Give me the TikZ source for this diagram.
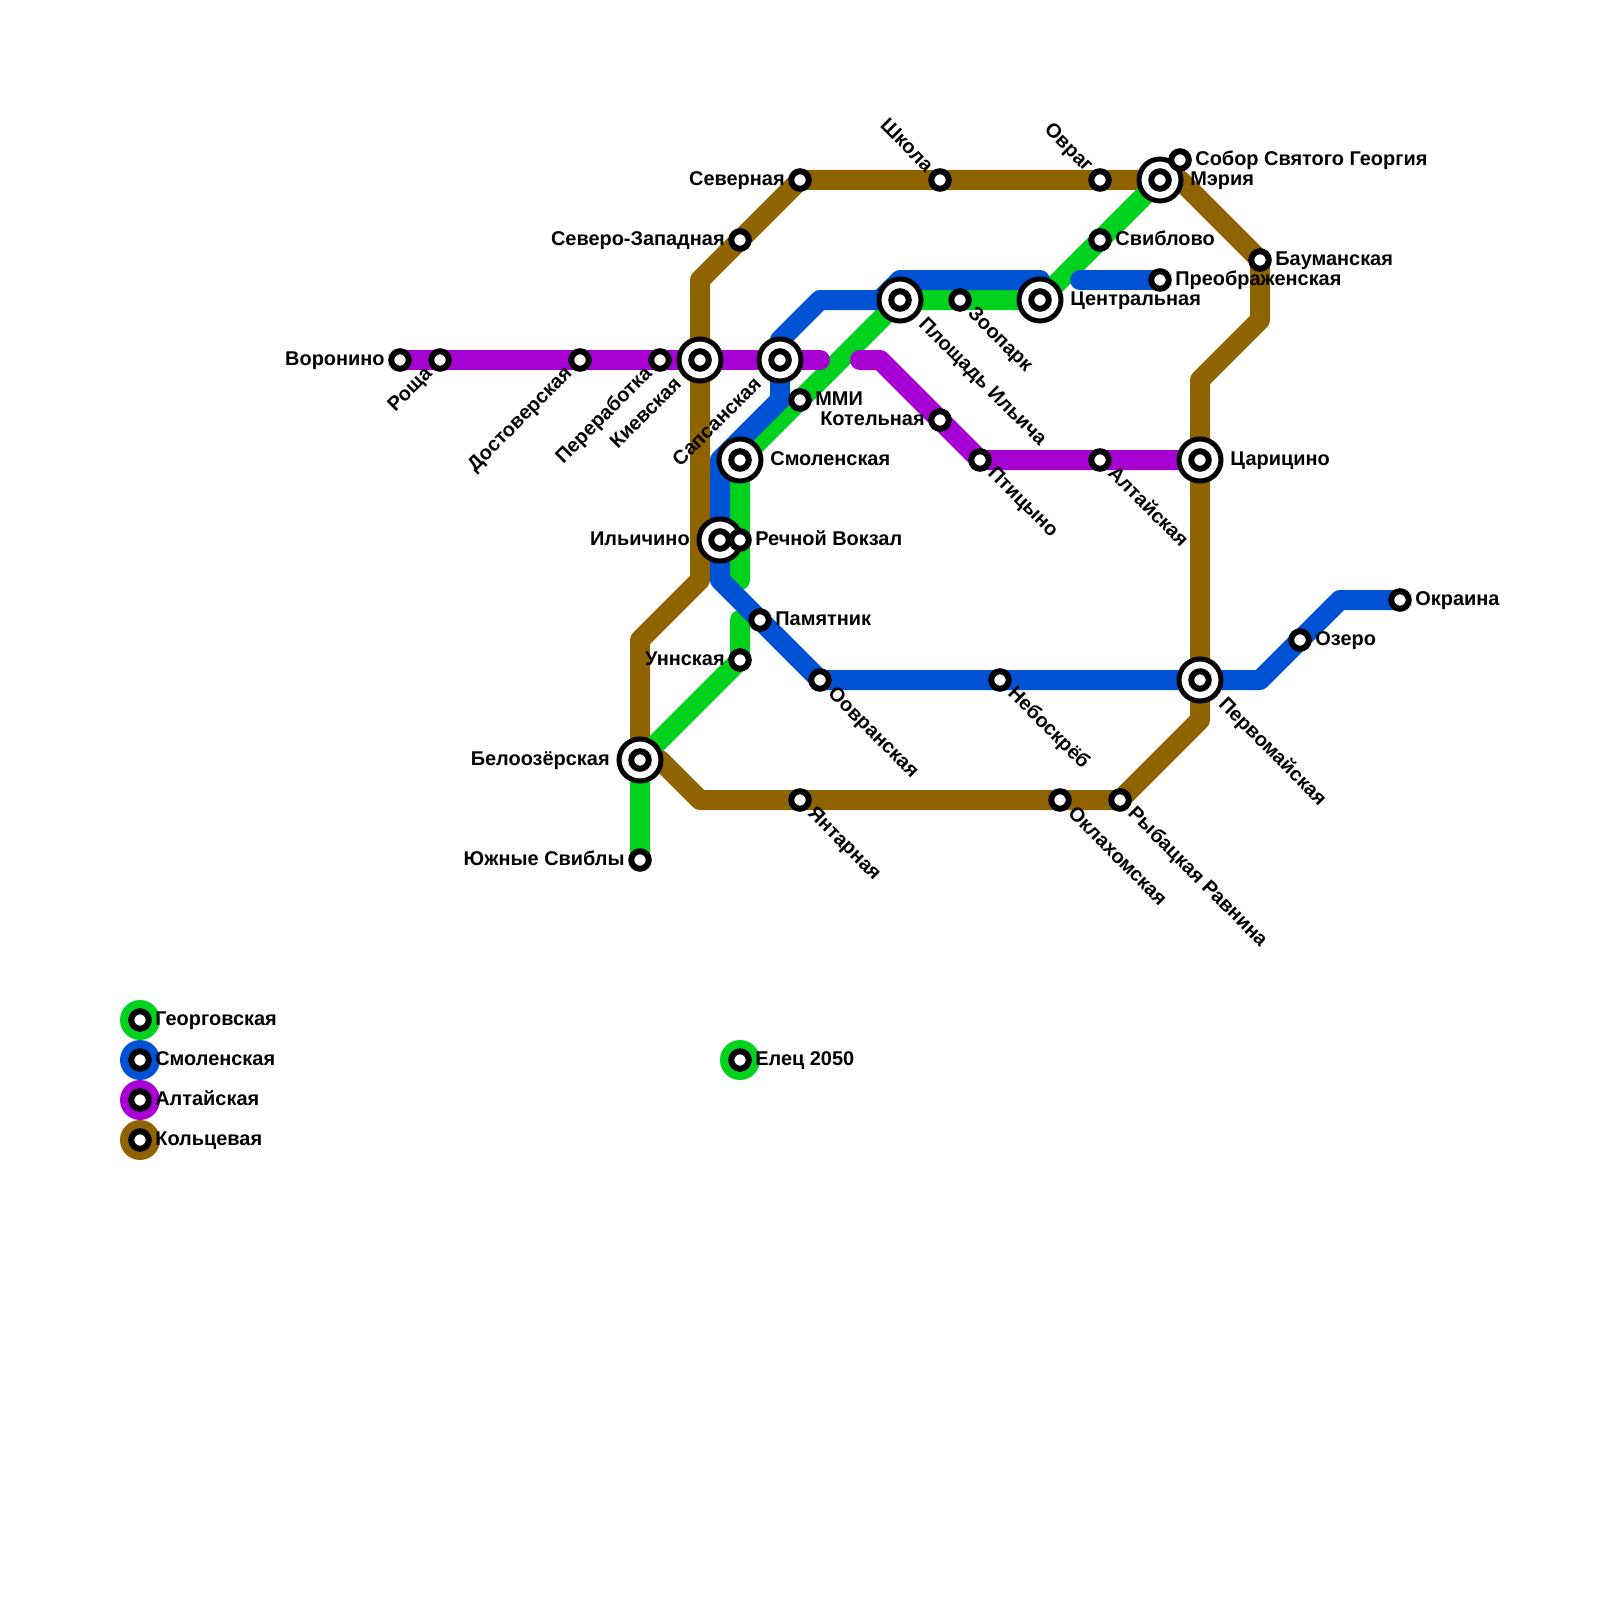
\documentclass[tikz,border=0pt]{standalone}
\usepackage{fontspec}
\setmainfont{Liberation Sans}
\definecolor{lineGreen}{HTML}{00D21E}
\definecolor{lineBlue}{HTML}{0052D4}
\definecolor{linePurple}{HTML}{A600D2}
\definecolor{lineBrown}{HTML}{8F6300}
\tikzset{
  route/.style={line width=0.4cm, line cap=round, line join=round},
  stnSmall/.style={circle, draw=black, fill=white, line width=0.12cm, minimum size=0.35cm, inner sep=0pt, outer sep=0pt},
  stnBig/.style={circle, draw=black, fill=white, line width=0.1cm, minimum size=0.84cm, inner sep=0pt, outer sep=0pt},
  legendDot/.style={circle, minimum size=0.8cm, inner sep=0pt, outer sep=0pt},
  lbl/.style={font=\fontsize{11.34}{13}\selectfont\bfseries, text=black, text height=0.21cm, text depth=0pt, inner ysep=0pt},
  lblR/.style={lbl, anchor=west, inner xsep=#1},
  lblL/.style={lbl, anchor=east, inner xsep=#1},
  lblDR/.style={lbl, anchor=west, rotate=-45, inner xsep=#1},
  lblUL/.style={lbl, anchor=east, rotate=-45, inner xsep=#1},
  lblDL/.style={lbl, anchor=east, rotate=45, inner xsep=#1},
}

\begin{document}
\begin{tikzpicture}[x=0.4cm, y=-0.4cm]

% --- CANVAS ---
\path[use as bounding box, fill=white] (0,0) rectangle (80,80);

% --- STATION POSITIONS ---
\foreach \st/\gx/\gy in {
  voronino/20/18, roshcha/22/18, dostoverskaya/29/18, pererabotka/33/18,
  kievskaya/35/18, sapsanskaya/39/18, mmi/40/20, smolenskaya/37/23,
  ilichino/36/27, rechnoy/37/27, pamyatnik/38/31, unnskaya/37/33,
  oovranskaya/41/34, neboskreb/50/34, pervomayskaya/60/34, ozero/65/32,
  okraina/70/30, beloozerskaya/32/38, yuzhnye/32/43, yantarnaya/40/40,
  oklahomskaya/53/40, rybatskaya/56/40, tsaritsino/60/23, altayskaya/55/23,
  ptitsyno/49/23, kotelnaya/47/21, ilyicha/45/15, zoopark/48/15,
  tsentralnaya/52/15, sviblovo/55/12, preobrazhenskaya/58/14, meriya/58/9,
  sobor/59/8, ovrag/55/9, shkola/47/9, severnaya/40/9, szapadnaya/37/12,
  baumanskaya/63/13, legGreen/7/51, legBlue/7/53, legPurple/7/55,
  legBrown/7/57, elets/37/53%
} {
  \coordinate (\st) at (\gx,\gy);
}

% --- BENDS ---
\coordinate (brA) at (59,9);
\coordinate (brB) at (63,16);
\coordinate (brC) at (60,19);
\coordinate (brD) at (60,36);
\coordinate (brE) at (35,40);
\coordinate (brF) at (33,38);
\coordinate (brG) at (32,32);
\coordinate (brH) at (35,29);
\coordinate (brI) at (35,14);
\coordinate (grA) at (37,29);
\coordinate (grB) at (37,31);
\coordinate (blA) at (67,30);
\coordinate (blB) at (63,34);
\coordinate (blC) at (36,29);
\coordinate (blD) at (36,23);
\coordinate (blE) at (39,20);
\coordinate (blF) at (39,17);
\coordinate (blG) at (41,15);
\coordinate (blH) at (44,15);
\coordinate (blI) at (45,14);
\coordinate (blJ) at (52,14);
\coordinate (blK) at (54,14);
\coordinate (puA) at (41,18);
\coordinate (puB) at (43,18);
\coordinate (puC) at (44,18);

% --- ROUTES ---
\draw[route, lineBrown] (severnaya) -- (meriya) -- (brA) -- (baumanskaya) -- (brB) -- (brC)
  -- (brD) -- (rybatskaya) -- (brE) -- (brF) -- (beloozerskaya) -- (brG) -- (brH) -- (brI) -- cycle;
\draw[route, lineGreen] (yuzhnye) -- (beloozerskaya) -- (unnskaya) -- (grB);
\draw[route, lineGreen] (grA) -- (smolenskaya) -- (ilyicha) -- (tsentralnaya) -- (meriya);
\draw[route, lineBlue] (okraina) -- (blA) -- (blB) -- (oovranskaya) -- (blC) -- (blD) -- (blE)
  -- (blF) -- (blG) -- (blH) -- (blI) -- (blJ);
\draw[route, lineBlue] (blK) -- (preobrazhenskaya);
\draw[route, linePurple] (voronino) -- (puA);
\draw[route, linePurple] (puB) -- (puC) -- (ptitsyno) -- (tsaritsino);

% --- LEGEND DISCS ---
\node[legendDot, fill=lineGreen] (dotGreen) at (legGreen) {};
\node[legendDot, fill=lineBlue] (dotBlue) at (legBlue) {};
\node[legendDot, fill=linePurple] (dotPurple) at (legPurple) {};
\node[legendDot, fill=lineBrown] (dotBrown) at (legBrown) {};
\node[legendDot, fill=lineGreen] (dotElets) at (elets) {};

% --- INTERCHANGE RINGS ---
\foreach \st in {kievskaya,sapsanskaya,smolenskaya,ilichino,ilyicha,tsentralnaya,
  meriya,tsaritsino,pervomayskaya,beloozerskaya} {
  \node[stnBig] (ring-\st) at (\st) {};
}

% --- STATION MARKERS ---
\foreach \st in {voronino,roshcha,dostoverskaya,pererabotka,kievskaya,sapsanskaya,mmi,
  smolenskaya,ilichino,rechnoy,pamyatnik,unnskaya,oovranskaya,neboskreb,pervomayskaya,
  ozero,okraina,beloozerskaya,yuzhnye,yantarnaya,oklahomskaya,rybatskaya,tsaritsino,
  altayskaya,ptitsyno,kotelnaya,ilyicha,zoopark,tsentralnaya,sviblovo,preobrazhenskaya,
  meriya,sobor,ovrag,shkola,severnaya,szapadnaya,baumanskaya,legGreen,legBlue,legPurple,
  legBrown,elets} {
  \node[stnSmall] (stn-\st) at (\st) {};
}

% --- LABELS RIGHT ---
\foreach \st/\txt in {mmi/ММИ, rechnoy/Речной Вокзал, pamyatnik/Памятник, ozero/Озеро,
  okraina/Окраина, sviblovo/Свиблово, preobrazhenskaya/Преображенская, sobor/Собор Святого Георгия,
  baumanskaya/Бауманская, legGreen/Георговская, legBlue/Смоленская, legPurple/Алтайская,
  legBrown/Кольцевая, elets/Елец 2050} {
  \node[lblR=0.3cm] (lbl-\st) at (\st) {\txt};
}
\foreach \st/\txt in {smolenskaya/Смоленская, tsaritsino/Царицино, tsentralnaya/Центральная, meriya/Мэрия} {
  \node[lblR=0.6cm] (lbl-\st) at (\st) {\txt};
}

% --- LABELS LEFT ---
\foreach \st/\txt in {voronino/Воронино, severnaya/Северная, szapadnaya/Северо-Западная,
  unnskaya/Уннская, kotelnaya/Котельная, yuzhnye/Южные Свиблы} {
  \node[lblL=0.3cm] (lbl-\st) at (\st) {\txt};
}
\foreach \st/\txt in {ilichino/Ильичино, beloozerskaya/Белоозёрская} {
  \node[lblL=0.6cm] (lbl-\st) at (\st) {\txt};
}

% --- LABELS DIAGONAL ---
\foreach \st/\txt in {zoopark/Зоопарк, ptitsyno/Птицыно, altayskaya/Алтайская, oovranskaya/Оовранская,
  neboskreb/Небоскрёб, yantarnaya/Янтарная, oklahomskaya/Оклахомская, rybatskaya/Рыбацкая Равнина} {
  \node[lblDR=0.3cm] (lbl-\st) at (\st) {\txt};
}
\foreach \st/\txt in {ilyicha/Площадь Ильича, pervomayskaya/Первомайская} {
  \node[lblDR=0.6cm] (lbl-\st) at (\st) {\txt};
}
\foreach \st/\txt in {shkola/Школа, ovrag/Овраг} {
  \node[lblUL=0.3cm] (lbl-\st) at (\st) {\txt};
}
\foreach \st/\txt in {roshcha/Роща, dostoverskaya/Достоверская, pererabotka/Переработка} {
  \node[lblDL=0.3cm] (lbl-\st) at (\st) {\txt};
}
\foreach \st/\txt in {kievskaya/Киевская, sapsanskaya/Сапсанская} {
  \node[lblDL=0.6cm] (lbl-\st) at (\st) {\txt};
}

\end{tikzpicture}
\end{document}
